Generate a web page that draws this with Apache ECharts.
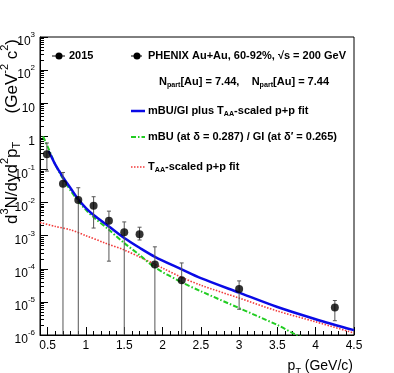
<!DOCTYPE html>
<html>
<head>
<meta charset="utf-8">
<script src="https://cdn.jsdelivr.net/npm/echarts@6/dist/echarts.min.js"></script>
<style>
html,body{margin:0;padding:0;background:#fff;}
#chart{width:394px;height:373px;}
</style>
</head>
<body>
<div id="chart"></div>
<script>
// PHENIX Au+Au 60-92%, 数据点
var ptX  = [0.49, 0.7, 0.9, 1.1, 1.3, 1.5, 1.7, 1.9, 2.25, 3.0, 4.25];
var ptY  = [0.29, 0.037, 0.012, 0.0080, 0.0028, 0.00126, 0.0011, 1.35e-4, 4.5e-5, 2.45e-5, 6.8e-6];
var errHi = [0.63, 0.081, 0.028, 0.015, 0.0055, 0.0026, 0.0018, 4.6e-4, 1.5e-4, 4.3e-5, 1.1e-5];
// 0 = 误差棒下沿在坐标轴以下
var errLo = [0.089, 0, 0, 0.0017, 1.7e-4, 0, 7.4e-4, 0, 0, 6.0e-6, 2.7e-6];

// mBU/GI plus TAA-scaled p+p fit
var blueX = [0.51, 0.55, 0.6, 0.65, 0.7, 0.8, 0.9, 1.0, 1.1, 1.3, 1.5, 1.7, 1.9, 2.25, 2.5, 3.0, 3.5, 4.0, 4.5];
var blueY = [0.36, 0.24, 0.14, 0.09, 0.058, 0.027, 0.0125, 0.0068, 0.0042, 0.0019, 8.5e-4, 4.3e-4, 2.3e-4, 9.6e-5, 5.2e-5, 1.9e-5, 7.0e-6, 3.0e-6, 1.4e-6];
// mBU / GI
var greenX = [0.44, 0.47, 0.5, 0.55, 0.6, 0.7, 0.8, 0.9, 1.0, 1.1, 1.3, 1.5, 1.7, 1.9, 2.25, 2.5, 3.0, 3.5, 3.75, 4.0];
var greenY = [1.0, 0.7, 0.49, 0.26, 0.14, 0.052, 0.023, 0.011, 0.006, 0.0036, 0.0015, 6.0e-4, 2.6e-4, 1.1e-4, 3.9e-5, 2.1e-5, 6.5e-6, 2.0e-6, 1.0e-6, 6e-7];
// TAA-scaled p+p fit
var redX = [0.4, 0.6, 0.8, 1.0, 1.25, 1.5, 1.75, 2.0, 2.25, 2.5, 3.0, 3.5, 4.0, 4.5];
var redY = [0.0025, 0.0019, 0.0015, 0.0010, 6.0e-4, 3.7e-4, 2.0e-4, 1.05e-4, 5.5e-5, 3.2e-5, 1.3e-5, 5.3e-6, 2.5e-6, 1.15e-6];

// 刻度
var xTicks = [0.5, 1, 1.5, 2, 2.5, 3, 3.5, 4, 4.5];
var yTicks = [1e-6, 1e-5, 1e-4, 1e-3, 1e-2, 1e-1, 1, 10, 100, 1000];

var xMinor = [];
for (var i = 4; i <= 45; i++) { xMinor.push(i / 10); }
var yMinor = [];
for (var e = -6; e < 3; e++) {
    for (var m = 2; m <= 9; m++) { yMinor.push(+(m * Math.pow(10, e)).toPrecision(3)); }
}

function pairs(xs, ys) {
    return xs.map(function (x, k) { return [x, ys[k]]; });
}

var FONT = '"Liberation Sans", Arial, Helvetica, sans-serif';
var Y_MIN = 1e-6;

var lblRich = {
    b: { fontFamily: FONT, fontSize: 12, lineHeight: 12, padding: [5, 0, 0, 0], verticalAlign: 'top', color: '#000' },
    sup: { fontFamily: FONT, fontSize: 8, lineHeight: 8, verticalAlign: 'top', color: '#000' }
};

function boldRich(size) {
    return {
        b: { fontFamily: FONT, fontSize: size, fontWeight: 'bold', lineHeight: size, verticalAlign: 'top', color: '#000' },
        sub: { fontFamily: FONT, fontSize: size * 0.65, fontWeight: 'bold', lineHeight: size * 0.65, padding: [size * 0.5, 0, 0, 0], verticalAlign: 'top', color: '#000' }
    };
}

var myChart = echarts.init(document.getElementById('chart'), null, { renderer: 'canvas' });

var option = {
    animation: false,
    backgroundColor: '#fff',
    grid: { left: 40, right: 40, top: 37, bottom: 38, show: true, borderColor: '#000', borderWidth: 1, backgroundColor: 'transparent' },
    xAxis: [{
        type: 'value', min: 0.4, max: 4.5,
        axisLine: { lineStyle: { color: '#000', width: 1 } },
        axisTick: { inside: true, length: 8, customValues: xTicks, lineStyle: { color: '#000' } },
        axisLabel: {
            customValues: xTicks, margin: 5, color: '#000', fontFamily: FONT, fontSize: 12,
            formatter: function (v) { return String(v); }
        },
        splitLine: { show: false }
    }, {
        type: 'value', min: 0.4, max: 4.5, position: 'bottom',
        axisLine: { show: false },
        axisTick: { inside: true, length: 4, customValues: xMinor, lineStyle: { color: '#000' } },
        axisLabel: { show: false },
        splitLine: { show: false }
    }],
    yAxis: [{
        type: 'log', logBase: 10, min: Y_MIN, max: 1e3,
        axisLine: { show: true, lineStyle: { color: '#000', width: 1 } },
        axisTick: { show: true, inside: true, length: 8, customValues: yTicks, lineStyle: { color: '#000' } },
        axisLabel: {
            customValues: yTicks, margin: 5, rich: lblRich,
            formatter: function (v) {
                var ex = Math.round(Math.log(v) / Math.LN10);
                if (ex === 0) return '{b|1}';
                if (ex === 1) return '{b|10}';
                return '{b|10}{sup|' + ex + '}';
            }
        },
        splitLine: { show: false }
    }, {
        type: 'log', logBase: 10, min: Y_MIN, max: 1e3, position: 'left',
        axisLine: { show: false },
        axisTick: { show: true, inside: true, length: 4, customValues: yMinor, lineStyle: { color: '#000' } },
        axisLabel: { show: false },
        splitLine: { show: false }
    }],
    series: [{
        name: 'TAA-scaled p+p fit', type: 'line', data: pairs(redX, redY),
        smooth: 0.3, showSymbol: false, clip: true, z: 2,
        lineStyle: { color: '#f23a3a', width: 1.6, type: [1.5, 1.5] }
    }, {
        name: 'mBU / GI', type: 'line', data: pairs(greenX, greenY),
        smooth: 0.3, showSymbol: false, clip: true, z: 3,
        lineStyle: { color: '#22cc22', width: 2, type: [5, 2, 1.5, 2] }
    }, {
        name: 'mBU/GI plus TAA-scaled p+p fit', type: 'line', data: pairs(blueX, blueY),
        smooth: 0.3, showSymbol: false, clip: true, z: 4,
        lineStyle: { color: '#0a0ae6', width: 2.5 }
    }, {
        name: 'err', type: 'custom', clip: true, z: 5,
        data: ptX.map(function (x, k) { return [x, errLo[k], errHi[k]]; }),
        encode: { x: 0, y: [1, 2] },
        renderItem: function (params, api) {
            var x = api.value(0), lo = api.value(1), hi = api.value(2);
            var top = api.coord([x, hi]);
            var bot = lo > 0 ? api.coord([x, lo]) : api.coord([x, Y_MIN]);
            var st = { stroke: '#555', lineWidth: 1 };
            var kids = [
                { type: 'line', shape: { x1: top[0], y1: top[1], x2: bot[0], y2: bot[1] }, style: st },
                { type: 'line', shape: { x1: top[0] - 2, y1: top[1], x2: top[0] + 2, y2: top[1] }, style: st }
            ];
            if (lo > 0) {
                kids.push({ type: 'line', shape: { x1: bot[0] - 2, y1: bot[1], x2: bot[0] + 2, y2: bot[1] }, style: st });
            }
            return { type: 'group', children: kids };
        }
    }, {
        name: 'PHENIX', type: 'scatter', data: pairs(ptX, ptY), z: 6,
        symbol: 'circle', symbolSize: 8, itemStyle: { color: '#000' }
    }],
    graphic: [
        // 图例符号
        { type: 'line', shape: { x1: 52, y1: 56, x2: 65, y2: 56 }, style: { stroke: '#000', lineWidth: 1 } },
        { type: 'circle', shape: { cx: 59, cy: 56, r: 3.5 }, style: { fill: '#000' } },
        { type: 'line', shape: { x1: 131, y1: 56, x2: 142, y2: 56 }, style: { stroke: '#000', lineWidth: 1 } },
        { type: 'circle', shape: { cx: 137, cy: 56, r: 3.5 }, style: { fill: '#000' } },
        { type: 'line', shape: { x1: 131, y1: 111, x2: 145, y2: 111 }, style: { stroke: '#0a0ae6', lineWidth: 2.5 } },
        { type: 'line', shape: { x1: 131, y1: 137, x2: 145, y2: 137 }, style: { stroke: '#22cc22', lineWidth: 2, lineDash: [5, 2, 1.5, 2] } },
        { type: 'line', shape: { x1: 131, y1: 167, x2: 145, y2: 167 }, style: { stroke: '#f23a3a', lineWidth: 1.6, lineDash: [1.5, 1.5] } },
        // 图例文字
        { type: 'text', x: 69, y: 56, style: { text: '{b|2015}', rich: boldRich(11), verticalAlign: 'middle', textVerticalAlign: 'middle' } },
        { type: 'text', x: 148, y: 56, style: { text: '{b|PHENIX Au+Au, 60-92%, √s = 200 GeV}', rich: boldRich(11), verticalAlign: 'middle', textVerticalAlign: 'middle' } },
        { type: 'text', x: 159, y: 82, style: { text: '{b|N}{sub|part}{b|[Au] = 7.44,    N}{sub|part}{b|[Au] = 7.44}', rich: boldRich(11), verticalAlign: 'middle', textVerticalAlign: 'middle' } },
        { type: 'text', x: 148, y: 111, style: { text: '{b|mBU/GI plus T}{sub|AA}{b|-scaled p+p fit}', rich: boldRich(11), verticalAlign: 'middle', textVerticalAlign: 'middle' } },
        { type: 'text', x: 148, y: 137, style: { text: '{b|mBU (at δ = 0.287) / GI (at δ′ = 0.265)}', rich: boldRich(11), verticalAlign: 'middle', textVerticalAlign: 'middle' } },
        { type: 'text', x: 148, y: 167, style: { text: '{b|T}{sub|AA}{b|-scaled p+p fit}', rich: boldRich(11), verticalAlign: 'middle', textVerticalAlign: 'middle' } },
        // 坐标轴标题
        { type: 'text', x: 353, y: 366, style: {
            text: '{b|p}{sub|T}{b| (GeV/c)}', align: 'right', textAlign: 'right', verticalAlign: 'middle', textVerticalAlign: 'middle',
            rich: {
                b: { fontFamily: FONT, fontSize: 14, lineHeight: 14, verticalAlign: 'top', color: '#000' },
                sub: { fontFamily: FONT, fontSize: 9, lineHeight: 9, padding: [8, 0, 0, 0], verticalAlign: 'top', color: '#000' }
            } } },
        { type: 'text', x: 8, y: 39, rotation: Math.PI / 2, style: {
            text: '{b|d}{sup|3}{b|N/dyd}{sup|2}{b|p}{sub|T}{b|      (GeV}{sup|-2}{b| c}{sup|2}{b|)}',
            align: 'right', textAlign: 'right', verticalAlign: 'middle', textVerticalAlign: 'middle',
            rich: {
                b: { fontFamily: FONT, fontSize: 17, lineHeight: 17, padding: [4, 0, 0, 0], verticalAlign: 'top', color: '#000' },
                sup: { fontFamily: FONT, fontSize: 11, lineHeight: 11, verticalAlign: 'top', color: '#000' },
                sub: { fontFamily: FONT, fontSize: 11, lineHeight: 11, padding: [12, 0, 0, 0], verticalAlign: 'top', color: '#000' }
            } } }
    ]
};
myChart.setOption(option);
</script>
</body>
</html>
